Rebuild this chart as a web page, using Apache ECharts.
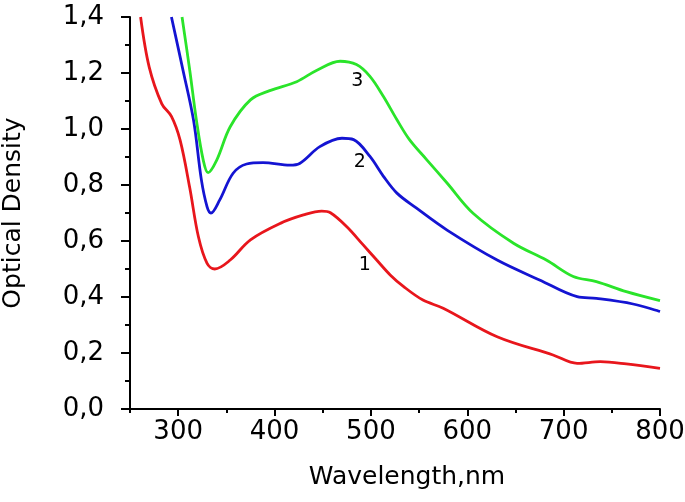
<!DOCTYPE html>
<html>
<head>
<meta charset="utf-8">
<script src="https://cdn.jsdelivr.net/npm/echarts@6/dist/echarts.min.js"></script>
<style>html,body{margin:0;padding:0;background:#fff}#c{width:685px;height:502px}</style>
</head>
<body>
<div id="c"></div>
<script>
// Curve 1 (red)
const wl1 = [261, 270, 283, 293, 302, 312, 321, 330, 338, 354, 375, 406, 430, 449, 458, 475, 492, 506, 520, 534, 554, 575, 631, 689, 714, 738, 765, 800];
const od1 = [1.40, 1.22, 1.09, 1.045, 0.96, 0.79, 0.615, 0.52, 0.50, 0.532, 0.604, 0.663, 0.693, 0.707, 0.701, 0.651, 0.586, 0.532, 0.479, 0.437, 0.389, 0.36, 0.258, 0.193, 0.163, 0.169, 0.161, 0.145];
// Curve 2 (blue)
const wl2 = [293, 305, 316, 324, 330, 334, 343, 357, 371, 388, 416, 426, 447, 470, 482, 499, 513, 527, 547, 579, 631, 675, 714, 734, 772, 800];
const od2 = [1.40, 1.21, 1.03, 0.82, 0.722, 0.70, 0.746, 0.842, 0.875, 0.88, 0.871, 0.877, 0.937, 0.967, 0.962, 0.902, 0.831, 0.771, 0.718, 0.639, 0.532, 0.461, 0.401, 0.395, 0.375, 0.348];
// Curve 3 (green)
const wl3 = [304, 312, 319, 326, 331, 340, 354, 375, 395, 423, 444, 468, 485, 499, 513, 527, 540, 558, 579, 606, 648, 682, 710, 734, 765, 800];
const od3 = [1.40, 1.21, 1.03, 0.889, 0.844, 0.889, 1.008, 1.104, 1.137, 1.169, 1.21, 1.242, 1.23, 1.188, 1.116, 1.033, 0.962, 0.89, 0.807, 0.699, 0.592, 0.532, 0.473, 0.455, 0.419, 0.387];
// Curve number annotations
const labelText = ['3', '2', '1'];
const labelWl = [486, 488.5, 493.7];
const labelOd = [1.171, 0.881, 0.515];
const xMajorTicks = [300, 400, 500, 600, 700, 800];
const xMinorTicks = [250, 350, 450, 550, 650, 750];

const zip = (a, b) => a.map((x, i) => [x, b[i]]);
const FONT = 'DejaVu Sans';
const chart = echarts.init(document.getElementById('c'), null, {renderer: 'canvas'});
const lineS = (data, color) => ({
  type: 'line', data, smooth: 0.35, showSymbol: false, symbol: 'none',
  lineStyle: {color, width: 2.8}, itemStyle: {color}, clip: true, silent: true
});
chart.setOption({
  animation: false,
  backgroundColor: '#fff',
  grid: {left: 130, right: 25, top: 17, bottom: 93, containLabel: false, outerBoundsMode: 'none'},
  xAxis: [{
    type: 'value', min: 250, max: 800,
    name: 'Wavelength,nm', nameLocation: 'middle', nameGap: 56,
    nameTextStyle: {fontFamily: FONT, fontSize: 25, color: '#000', padding: [0, 0, 0, 24]},
    axisLine: {onZero: false, lineStyle: {color: '#000', width: 2}},
    axisTick: {customValues: xMajorTicks, length: 7, lineStyle: {color: '#000', width: 2}},
    axisLabel: {customValues: xMajorTicks, fontFamily: FONT, fontSize: 26, color: '#000', margin: 10},
    splitLine: {show: false}
  }, {
    type: 'value', min: 250, max: 800, position: 'bottom',
    axisLine: {show: false},
    axisTick: {customValues: xMinorTicks, length: 4, lineStyle: {color: '#000', width: 2}},
    axisLabel: {show: false},
    splitLine: {show: false}
  }],
  yAxis: {
    type: 'value', min: 0, max: 1.4, interval: 0.2,
    name: 'Optical Density', nameLocation: 'middle', nameGap: 104,
    nameTextStyle: {fontFamily: FONT, fontSize: 25, color: '#000'},
    axisLine: {show: true, onZero: false, lineStyle: {color: '#000', width: 2}},
    axisTick: {show: true, length: 9, lineStyle: {color: '#000', width: 2}},
    minorTick: {show: true, splitNumber: 2, length: 5, lineStyle: {color: '#000', width: 2}},
    axisLabel: {fontFamily: FONT, fontSize: 26, color: '#000', margin: 26,
      formatter: v => v.toFixed(1).replace('.', ',')},
    splitLine: {show: false}, minorSplitLine: {show: false}
  },
  series: [
    lineS(zip(wl1, od1), '#e8161c'),
    lineS(zip(wl2, od2), '#1414d2'),
    lineS(zip(wl3, od3), '#2ae42a')
  ]
});
// place curve numbers through the chart's own scales
const texts = labelText.map((t, i) => {
  const p = chart.convertToPixel({xAxisIndex: 0, yAxisIndex: 0}, [labelWl[i], labelOd[i]]);
  return {type: 'text', x: p[0], y: p[1], silent: true,
    style: {text: t, fontFamily: FONT, fontSize: 19, fill: '#000', align: 'center', verticalAlign: 'middle'}};
});
chart.setOption({graphic: texts});
</script>
</body>
</html>
